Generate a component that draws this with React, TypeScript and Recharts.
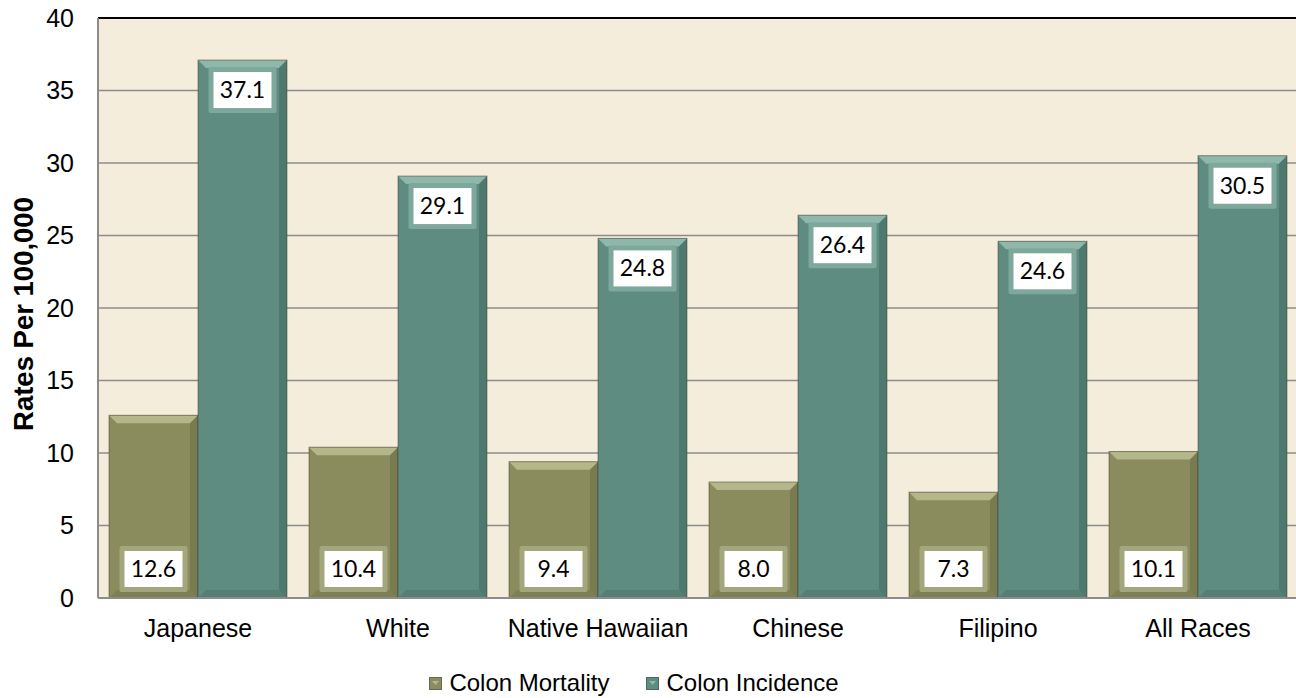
import React from "react";
import {
  BarChart,
  Bar,
  XAxis,
  YAxis,
  CartesianGrid,
  Legend,
  LabelList,
  ReferenceLine,
} from "recharts";

const categories = ["Japanese", "White", "Native Hawaiian", "Chinese", "Filipino", "All Races"];
const mortality = [12.6, 10.4, 9.4, 8.0, 7.3, 10.1];
const incidence = [37.1, 29.1, 24.8, 26.4, 24.6, 30.5];
const yTicks = [0, 5, 10, 15, 20, 25, 30, 35, 40];

const data = categories.map((name, i) => ({
  name,
  mortality: mortality[i],
  incidence: incidence[i],
}));

const palette = {
  mortality: { base: "#8A8C5E", top: "#B4B78A", right: "#6A6C45", bottom: "#727449", box: "#A4A77D" },
  incidence: { base: "#5E8C80", top: "#8FB8AB", right: "#43685E", bottom: "#4B7268", box: "#7FA89C" },
};

const axisFont = "'Liberation Sans', Arial, sans-serif";

function makeBevel(colors: typeof palette.mortality) {
  return (props: any) => {
    const { x, y, width: w, height: h } = props;
    if (!h || h <= 0) return null;
    const b = Math.min(8, h / 2);
    return (
      <g>
        <rect x={x} y={y} width={w} height={h} fill={colors.base} />
        <polygon
          points={`${x},${y} ${x + w},${y} ${x + w - b},${y + b} ${x + b},${y + b}`}
          fill={colors.top}
        />
        <polygon
          points={`${x + w},${y} ${x + w},${y + h} ${x + w - b},${y + h - b} ${x + w - b},${y + b}`}
          fill={colors.right}
          opacity={0.55}
        />
        <polygon
          points={`${x},${y + h} ${x + w},${y + h} ${x + w - b},${y + h - b} ${x + b},${y + h - b}`}
          fill={colors.bottom}
          opacity={0.5}
        />
        <rect x={x} y={y} width={w} height={h} fill="none" stroke="#3c3c30" strokeOpacity={0.5} />
      </g>
    );
  };
}

function makeLabel(colors: typeof palette.mortality, where: "top" | "bottom") {
  return (props: any) => {
    const { x, y, width, height, value } = props;
    const cx = x + width / 2;
    const bw = 68;
    const bh = 46;
    const top = where === "top" ? y + 7 : y + height - 52;
    return (
      <g>
        <rect x={cx - bw / 2} y={top} width={bw} height={bh} fill={colors.box} rx={2} />
        <rect x={cx - bw / 2 + 5} y={top + 5} width={bw - 10} height={bh - 10} fill="#fff" />
        <text
          x={cx}
          y={top + bh / 2 + 8}
          textAnchor="middle"
          fontFamily="Lato, 'Open Sans', sans-serif"
          fontSize={23}
          fill="#000"
        >
          {Number(value).toFixed(1)}
        </text>
      </g>
    );
  };
}

function LegendIcon({ colors }: { colors: typeof palette.mortality }) {
  return (
    <svg width={13} height={13} style={{ marginRight: 7 }}>
      <rect x={0} y={0} width={13} height={13} fill={colors.base} />
      <polygon points="3,4 10,4 6.5,8" fill={colors.top} />
      <rect x={0.5} y={0.5} width={12} height={12} fill="none" stroke="#444" strokeOpacity={0.5} />
    </svg>
  );
}

function renderLegend() {
  return (
    <div
      style={{
        display: "flex",
        justifyContent: "center",
        alignItems: "center",
        fontFamily: axisFont,
        fontSize: 24,
        color: "#000",
        height: 30,
        paddingTop: 20,
        paddingRight: 48,
      }}
    >
      <span style={{ display: "flex", alignItems: "center", marginRight: 37 }}>
        <LegendIcon colors={palette.mortality} />
        Colon Mortality
      </span>
      <span style={{ display: "flex", alignItems: "center" }}>
        <LegendIcon colors={palette.incidence} />
        Colon Incidence
      </span>
    </div>
  );
}

export default function App() {
  return (
    <div style={{ position: "absolute", left: 0, top: 0, width: 1296, height: 698, overflow: "hidden", background: "#fff" }}>
      <BarChart
        width={1300}
        height={698}
        data={data}
        margin={{ top: 18, right: 2, left: 18, bottom: 0 }}
        barCategoryGap="5.5%"
        barGap={0}
      >
        <CartesianGrid vertical={false} fill="#F5EDDC" stroke="#8C8C8C" strokeWidth={1.5} />
        <XAxis
          dataKey="name"
          height={50}
          tickLine={false}
          axisLine={{ stroke: "#8C8C8C", strokeWidth: 2 }}
          tick={{ fontFamily: axisFont, fontSize: 25, fill: "#000" }}
          tickMargin={15}
          interval={0}
        />
        <YAxis
          width={80}
          domain={[0, 40]}
          ticks={yTicks}
          tickLine={false}
          axisLine={{ stroke: "#8C8C8C", strokeWidth: 2 }}
          tick={{ fontFamily: axisFont, fontSize: 25, fill: "#000" }}
          tickMargin={18}
          label={{
            value: "Rates Per 100,000",
            angle: -90,
            position: "insideLeft",
            offset: 0,
            dx: 5,
            dy: 6,
            style: { fontFamily: axisFont, fontSize: 27.5, fontWeight: "bold", fill: "#000", textAnchor: "middle" },
          }}
        />
        <ReferenceLine y={40} stroke="#000" strokeWidth={2} />
        <Legend verticalAlign="bottom" content={renderLegend} />
        <Bar
          dataKey="mortality"
          name="Colon Mortality"
          fill={palette.mortality.base}
          shape={makeBevel(palette.mortality)}
          isAnimationActive={false}
        >
          <LabelList dataKey="mortality" content={makeLabel(palette.mortality, "bottom")} />
        </Bar>
        <Bar
          dataKey="incidence"
          name="Colon Incidence"
          fill={palette.incidence.base}
          shape={makeBevel(palette.incidence)}
          isAnimationActive={false}
        >
          <LabelList dataKey="incidence" content={makeLabel(palette.incidence, "top")} />
        </Bar>
      </BarChart>
    </div>
  );
}
